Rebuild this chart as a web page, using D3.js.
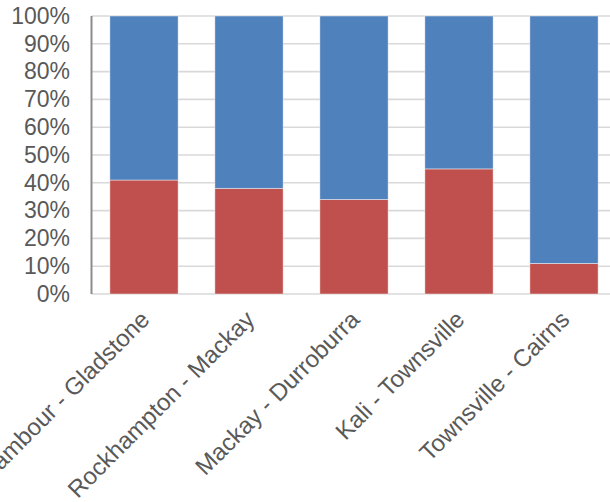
<!DOCTYPE html>
<html>
<head>
<meta charset="utf-8">
<script src="https://cdn.jsdelivr.net/npm/d3@7/dist/d3.min.js"></script>
<style>
  html, body { margin: 0; padding: 0; background: #fff; }
  svg { display: block; }
</style>
</head>
<body>
<svg id="chart" width="610" height="502"></svg>
<script>
// Route segments and the share of each segment (percent of total)
const categories = [
  "Yarrambour - Gladstone",
  "Rockhampton - Mackay",
  "Mackay - Durroburra",
  "Kali - Townsville",
  "Townsville - Cairns"
];
const lowerShare = [41, 38, 34, 45, 11];
const upperShare = [59, 62, 66, 55, 89];
const yTicks = [0, 10, 20, 30, 40, 50, 60, 70, 80, 90, 100];

const svg = d3.select("#chart");
const W = 610, H = 502;
const plot = { left: 91.5, top: 16, bottom: 294, right: 616.5 };

const x = d3.scaleBand()
  .domain(categories)
  .range([plot.left, plot.right])
  .paddingInner(0.35)
  .paddingOuter(0.175);

const y = d3.scaleLinear()
  .domain([0, 100])
  .range([plot.bottom, plot.top]);

const rows = categories.map((c, i) => ({ cat: c, lower: lowerShare[i], upper: upperShare[i] }));
const stacked = d3.stack().keys(["lower", "upper"])(rows);
const colors = { lower: "#C0504D", upper: "#4F81BD" };

// horizontal gridlines
svg.append("g")
  .selectAll("line")
  .data(yTicks)
  .join("line")
  .attr("x1", plot.left)
  .attr("x2", W)
  .attr("y1", d => y(d))
  .attr("y2", d => y(d))
  .attr("stroke", "#d9d9d9")
  .attr("stroke-width", 1.6);

// stacked bars
svg.append("g")
  .selectAll("g")
  .data(stacked)
  .join("g")
  .attr("fill", s => colors[s.key])
  .selectAll("rect")
  .data(s => s)
  .join("rect")
  .attr("x", d => x(d.data.cat))
  .attr("width", x.bandwidth())
  .attr("y", d => y(d[1]))
  .attr("height", d => y(d[0]) - y(d[1]))
  .attr("stroke", "rgba(255,255,255,0.55)")
  .attr("stroke-width", 0.8);

// y axis line
svg.append("line")
  .attr("x1", plot.left).attr("x2", plot.left)
  .attr("y1", y(100)).attr("y2", y(0))
  .attr("stroke", "#8c8c8c")
  .attr("stroke-width", 2);

// y tick labels
const yAxis = d3.axisLeft(y)
  .tickValues(yTicks)
  .tickFormat(d => d + "%")
  .tickSize(0)
  .tickPadding(0);
const gy = svg.append("g")
  .attr("transform", `translate(70,0)`)
  .call(yAxis);
gy.select(".domain").remove();
gy.selectAll("text")
  .attr("fill", "#595959")
  .style("font-family", "Liberation Sans, Arial, sans-serif")
  .style("font-size", "23px");

// rotated category labels
svg.append("g")
  .selectAll("text")
  .data(categories)
  .join("text")
  .attr("transform", d => `translate(${x(d) + x.bandwidth() / 2 + 1},${plot.bottom + 21}) rotate(-45)`)
  .attr("text-anchor", "end")
  .attr("dy", "0.35em")
  .attr("fill", "#595959")
  .style("font-family", "Liberation Sans, Arial, sans-serif")
  .style("font-size", "24px")
  .text(d => d);
</script>
</body>
</html>
